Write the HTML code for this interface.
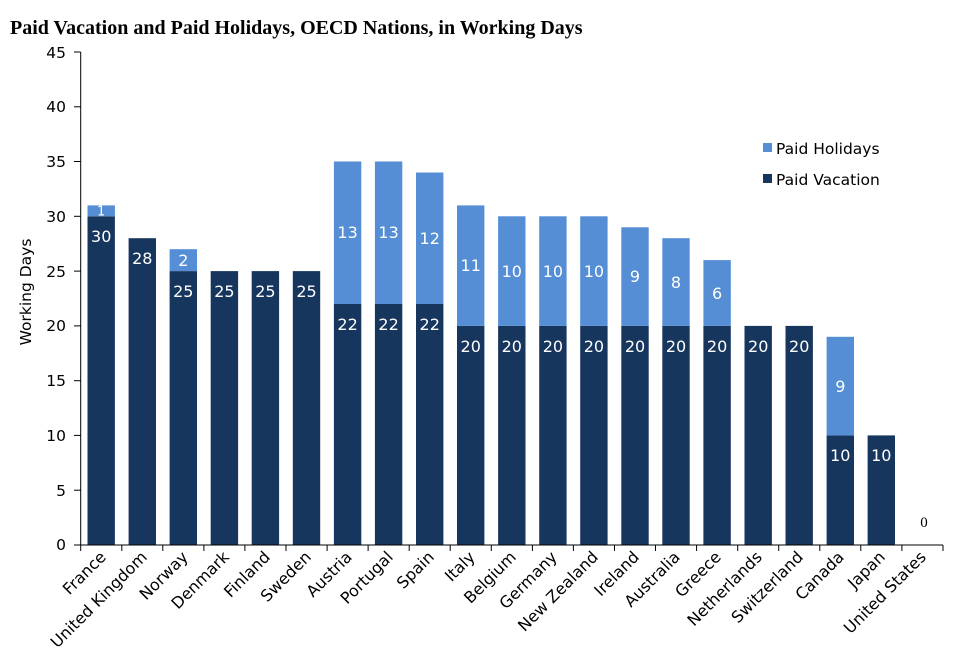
<!DOCTYPE html>
<html><head><meta charset="utf-8"><style>
html,body{margin:0;padding:0;background:#fff}
svg{display:block}
.t{font-family:"DejaVu Sans","Liberation Sans",sans-serif}
</style></head><body>
<svg width="953" height="670" viewBox="0 0 953 670" xmlns="http://www.w3.org/2000/svg">
<text x="10" y="34" font-family="Liberation Serif,serif" font-weight="bold" font-size="20" fill="#000">Paid Vacation and Paid Holidays, OECD Nations, in Working Days</text>
<g stroke="#000" stroke-width="1">
<line x1="80.7" y1="52" x2="80.7" y2="545"/>
<line x1="74" y1="52.0" x2="80.7" y2="52.0"/>
<line x1="74" y1="106.8" x2="80.7" y2="106.8"/>
<line x1="74" y1="161.5" x2="80.7" y2="161.5"/>
<line x1="74" y1="216.3" x2="80.7" y2="216.3"/>
<line x1="74" y1="271.1" x2="80.7" y2="271.1"/>
<line x1="74" y1="325.9" x2="80.7" y2="325.9"/>
<line x1="74" y1="380.7" x2="80.7" y2="380.7"/>
<line x1="74" y1="435.4" x2="80.7" y2="435.4"/>
<line x1="74" y1="490.2" x2="80.7" y2="490.2"/>
<line x1="74" y1="545" x2="80.7" y2="545"/>
</g>
<g class="t" font-size="15.5" fill="#000" text-anchor="end">
<text x="66" y="58">45</text><text x="66" y="112">40</text><text x="66" y="167">35</text>
<text x="66" y="222">30</text><text x="66" y="277">25</text><text x="66" y="331">20</text>
<text x="66" y="386">15</text><text x="66" y="441">10</text><text x="66" y="496">5</text>
<text x="66" y="550">0</text>
</g>
<text class="t" font-size="15.5" transform="translate(31,292) rotate(-90)" text-anchor="middle">Working Days</text>

<g fill="#17365d">
<rect x="87.5" y="216.3" width="27.4" height="328.7"/>
<rect x="128.6" y="238.2" width="27.4" height="306.8"/>
<rect x="169.6" y="271.1" width="27.4" height="273.9"/>
<rect x="210.7" y="271.1" width="27.4" height="273.9"/>
<rect x="251.7" y="271.1" width="27.4" height="273.9"/>
<rect x="292.8" y="271.1" width="27.4" height="273.9"/>
<rect x="333.9" y="304.0" width="27.4" height="241"/>
<rect x="374.9" y="304.0" width="27.4" height="241"/>
<rect x="416.0" y="304.0" width="27.4" height="241"/>
<rect x="457.0" y="325.9" width="27.4" height="219.1"/>
<rect x="498.1" y="325.9" width="27.4" height="219.1"/>
<rect x="539.2" y="325.9" width="27.4" height="219.1"/>
<rect x="580.2" y="325.9" width="27.4" height="219.1"/>
<rect x="621.3" y="325.9" width="27.4" height="219.1"/>
<rect x="662.3" y="325.9" width="27.4" height="219.1"/>
<rect x="703.4" y="325.9" width="27.4" height="219.1"/>
<rect x="744.5" y="325.9" width="27.4" height="219.1"/>
<rect x="785.5" y="325.9" width="27.4" height="219.1"/>
<rect x="826.6" y="435.4" width="27.4" height="109.6"/>
<rect x="867.6" y="435.4" width="27.4" height="109.6"/>
</g>
<g fill="#558ed5">
<rect x="87.5" y="205.4" width="27.4" height="10.9"/>
<rect x="169.6" y="249.2" width="27.4" height="21.9"/>
<rect x="333.9" y="161.5" width="27.4" height="142.5"/>
<rect x="374.9" y="161.5" width="27.4" height="142.5"/>
<rect x="416.0" y="172.5" width="27.4" height="131.5"/>
<rect x="457.0" y="205.4" width="27.4" height="120.5"/>
<rect x="498.1" y="216.3" width="27.4" height="109.6"/>
<rect x="539.2" y="216.3" width="27.4" height="109.6"/>
<rect x="580.2" y="216.3" width="27.4" height="109.6"/>
<rect x="621.3" y="227.3" width="27.4" height="98.6"/>
<rect x="662.3" y="238.2" width="27.4" height="87.7"/>
<rect x="703.4" y="260.1" width="27.4" height="65.8"/>
<rect x="826.6" y="336.8" width="27.4" height="98.6"/>
</g>
<g class="t" font-size="16" fill="#fff" text-anchor="middle">
<text x="101.2" y="242">30</text><text x="142.3" y="264">28</text>
<text x="183.3" y="297">25</text><text x="224.4" y="297">25</text><text x="265.4" y="297">25</text><text x="306.5" y="297">25</text>
<text x="347.6" y="330">22</text><text x="388.6" y="330">22</text><text x="429.7" y="330">22</text>
<text x="470.7" y="352">20</text><text x="511.8" y="352">20</text><text x="552.9" y="352">20</text><text x="593.9" y="352">20</text>
<text x="635.0" y="352">20</text><text x="676.0" y="352">20</text><text x="717.1" y="352">20</text><text x="758.2" y="352">20</text>
<text x="799.2" y="352">20</text><text x="840.3" y="461">10</text><text x="881.3" y="461">10</text>
<text x="101.2" y="215.5" font-size="13">1</text>
<text x="183.3" y="266">2</text>
<text x="347.6" y="238">13</text><text x="388.6" y="238">13</text><text x="429.7" y="244">12</text>
<text x="470.7" y="271">11</text><text x="511.8" y="277">10</text><text x="552.9" y="277">10</text><text x="593.9" y="277">10</text>
<text x="635.0" y="282">9</text><text x="676.0" y="288">8</text><text x="717.1" y="299">6</text><text x="840.3" y="392">9</text>
</g>
<text x="924" y="527" font-family="Liberation Serif,serif" font-size="15" text-anchor="middle" fill="#000">0</text>

<g stroke="#000" stroke-width="1">
<line x1="80.7" y1="545" x2="943" y2="545"/>
<line x1="80.7" y1="545" x2="80.7" y2="551"/>
<line x1="121.8" y1="545" x2="121.8" y2="551"/><line x1="162.8" y1="545" x2="162.8" y2="551"/>
<line x1="203.9" y1="545" x2="203.9" y2="551"/><line x1="244.9" y1="545" x2="244.9" y2="551"/>
<line x1="286.0" y1="545" x2="286.0" y2="551"/><line x1="327.1" y1="545" x2="327.1" y2="551"/>
<line x1="368.1" y1="545" x2="368.1" y2="551"/><line x1="409.2" y1="545" x2="409.2" y2="551"/>
<line x1="450.2" y1="545" x2="450.2" y2="551"/><line x1="491.3" y1="545" x2="491.3" y2="551"/>
<line x1="532.4" y1="545" x2="532.4" y2="551"/><line x1="573.4" y1="545" x2="573.4" y2="551"/>
<line x1="614.5" y1="545" x2="614.5" y2="551"/><line x1="655.5" y1="545" x2="655.5" y2="551"/>
<line x1="696.6" y1="545" x2="696.6" y2="551"/><line x1="737.7" y1="545" x2="737.7" y2="551"/>
<line x1="778.7" y1="545" x2="778.7" y2="551"/><line x1="819.8" y1="545" x2="819.8" y2="551"/>
<line x1="860.8" y1="545" x2="860.8" y2="551"/><line x1="901.9" y1="545" x2="901.9" y2="551"/>
<line x1="943" y1="545" x2="943" y2="551"/>
</g>
<g class="t" font-size="16" fill="#000" text-anchor="end">
<text transform="translate(107,558) rotate(-45)">France</text>
<text transform="translate(148,558) rotate(-45)">United Kingdom</text>
<text transform="translate(189,558) rotate(-45)">Norway</text>
<text transform="translate(230,558) rotate(-45)">Denmark</text>
<text transform="translate(271,558) rotate(-45)">Finland</text>
<text transform="translate(312,558) rotate(-45)">Sweden</text>
<text transform="translate(353,558) rotate(-45)">Austria</text>
<text transform="translate(394,558) rotate(-45)">Portugal</text>
<text transform="translate(435,558) rotate(-45)">Spain</text>
<text transform="translate(476,558) rotate(-45)">Italy</text>
<text transform="translate(517,558) rotate(-45)">Belgium</text>
<text transform="translate(558,558) rotate(-45)">Germany</text>
<text transform="translate(599,558) rotate(-45)">New Zealand</text>
<text transform="translate(640,558) rotate(-45)">Ireland</text>
<text transform="translate(681,558) rotate(-45)">Australia</text>
<text transform="translate(722,558) rotate(-45)">Greece</text>
<text transform="translate(763,558) rotate(-45)">Netherlands</text>
<text transform="translate(804,558) rotate(-45)">Switzerland</text>
<text transform="translate(845,558) rotate(-45)">Canada</text>
<text transform="translate(886,558) rotate(-45)">Japan</text>
<text transform="translate(927,558) rotate(-45)">United States</text>
</g>

<rect x="763" y="143" width="9" height="9" fill="#558ed5"/>
<rect x="763" y="174" width="9" height="9" fill="#17365d"/>
<g class="t" font-size="15.5" fill="#000">
<text x="776" y="154">Paid Holidays</text>
<text x="776" y="185">Paid Vacation</text>
</g>
</svg>
</body></html>
